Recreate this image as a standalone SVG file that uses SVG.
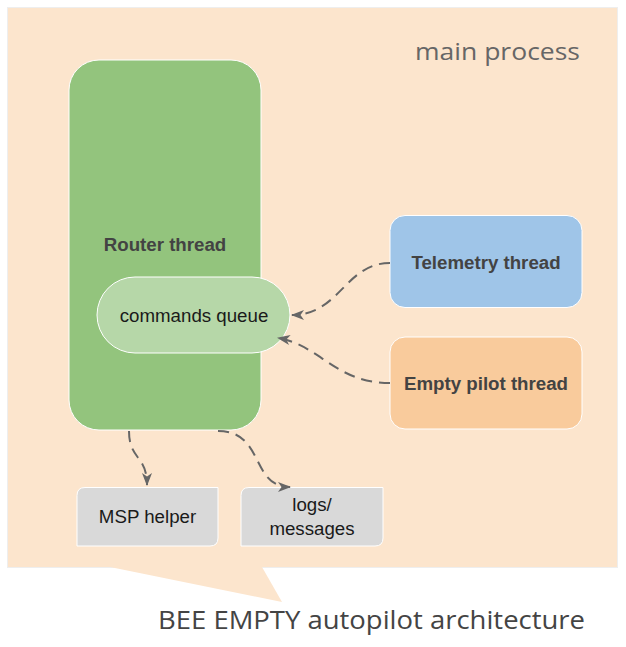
<svg xmlns="http://www.w3.org/2000/svg" width="626" height="647" viewBox="0 0 626 647">
<style>
.lbl{font-family:"Liberation Sans",Arial,sans-serif;font-size:18.7px;text-anchor:middle}
.bold{font-weight:bold;fill:#434343}
.reg{fill:#1a1a1a}
.title{font-family:"Open Sans","Noto Sans",sans-serif}
.conn{fill:none;stroke:#666;stroke-width:2;stroke-dasharray:11,7;marker-end:url(#ah)}
.node{stroke:#fff;stroke-width:1}
</style>
<defs>
<marker id="ah" markerWidth="14" markerHeight="14" viewBox="0 0 14 14" refX="12" refY="7" orient="auto" markerUnits="userSpaceOnUse">
<path d="M0,2 L13,7 L0,12 L3.5,7 Z" fill="#666"/>
</marker>
</defs>
<rect width="626" height="647" fill="#fff"/>
<g id="main-process">
<rect x="7.5" y="7.5" width="610" height="560" fill="#fce5cd" stroke="#eeeeee" stroke-width="1"/>
<polygon points="110,567 262,567 282,602" fill="#fce5cd"/>
<text class="title" x="580" y="60" font-size="24" fill="#666" text-anchor="end" textLength="165" lengthAdjust="spacingAndGlyphs">main process</text>
</g>
<g id="router-thread">
<rect class="node" x="69" y="60" width="192" height="370" rx="30" fill="#93c47d"/>
<text class="lbl bold" x="165" y="251">Router thread</text>
</g>
<g id="commands-queue">
<rect class="node" x="97" y="277" width="193" height="76" rx="38" fill="#b6d7a8"/>
<text class="lbl reg" x="194" y="322">commands queue</text>
</g>
<g id="telemetry-thread">
<rect class="node" x="390" y="215.5" width="192" height="92" rx="15" fill="#9fc5e8"/>
<text class="lbl bold" x="486" y="269">Telemetry thread</text>
</g>
<g id="empty-pilot-thread">
<rect class="node" x="390" y="337" width="192" height="92" rx="15" fill="#f9cb9c"/>
<text class="lbl bold" x="486" y="390">Empty pilot thread</text>
</g>
<g id="msp-helper">
<path d="M85,487.5 L218,487.5 L218,538 Q218,546 210,546 L77,546 L77,495.5 Q77,487.5 85,487.5 Z" fill="#d9d9d9" stroke="#fff" stroke-width="1"/>
<text class="lbl reg" x="147.5" y="523">MSP helper</text>
</g>
<g id="logs-messages">
<path d="M249,487.5 L383,487.5 L383,538 Q383,546 375,546 L241,546 L241,495.5 Q241,487.5 249,487.5 Z" fill="#d9d9d9" stroke="#fff" stroke-width="1"/>
<text class="lbl reg" x="312" y="511">logs/</text>
<text class="lbl reg" x="312" y="535">messages</text>
</g>
<g id="connectors">
<path class="conn" d="M390,263 C345,263 340,315 292,315"/>
<path class="conn" d="M390,383 C335,383 320,345 278,338"/>
<path class="conn" d="M129,431 C129,460 147,455 147,485"/>
<path class="conn" d="M218,431 C265,431 250,487 290,487"/>
</g>
<text class="title" x="158" y="629" font-size="25" fill="#444" textLength="427" lengthAdjust="spacingAndGlyphs">BEE EMPTY autopilot architecture</text>
</svg>
